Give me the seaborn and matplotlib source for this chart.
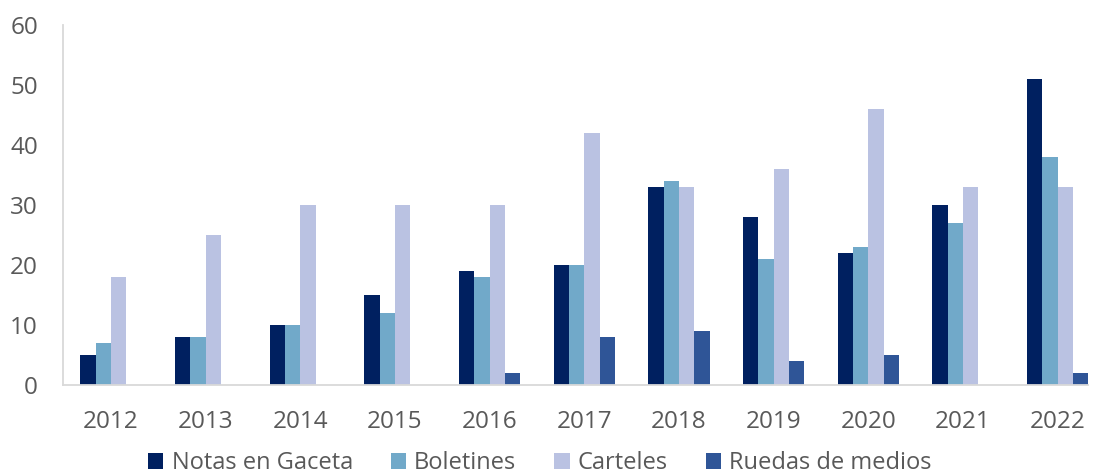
import numpy as np
import pandas as pd
import matplotlib
matplotlib.use("Agg")
import matplotlib.pyplot as plt
import seaborn as sns

# Data
years = ["2012", "2013", "2014", "2015", "2016", "2017", "2018", "2019", "2020", "2021", "2022"]
notas = [5, 8, 10, 15, 19, 20, 33, 28, 22, 30, 51]
boletines = [7, 8, 10, 12, 18, 20, 34, 21, 23, 27, 38]
carteles = [18, 25, 30, 30, 30, 42, 33, 36, 46, 33, 33]
ruedas = [0, 0, 0, 0, 2, 8, 9, 4, 5, 0, 2]
series_names = ["Notas en Gaceta", "Boletines", "Carteles", "Ruedas de medios"]
colors = ["#002060", "#71A9C9", "#BAC2E2", "#2F5597"]

df = pd.DataFrame({
    "year": years * 4,
    "serie": np.repeat(series_names, len(years)),
    "value": notas + boletines + carteles + ruedas,
})

sns.set_style("white")
plt.rcParams["font.family"] = ["Open Sans", "DejaVu Sans"]

fig = plt.figure(figsize=(10.93, 4.74), dpi=100)
ax = fig.add_axes([0.0576, 0.1878, 0.9378, 0.7592])

sns.barplot(data=df, x="year", y="value", hue="serie", order=years,
            hue_order=series_names, palette=colors, width=0.645,
            linewidth=0, saturation=1, ax=ax, legend=True)

ax.set_xlim(-0.507, 10.32)
ax.set_ylim(0, 60)
ax.set_yticks(range(0, 61, 10))
ax.set_xlabel("")
ax.set_ylabel("")
ax.tick_params(axis="both", length=0, labelsize=17.5, colors="#595959")
ax.tick_params(axis="x", pad=18)
ax.tick_params(axis="y", pad=18)
for s in ["top", "right"]:
    ax.spines[s].set_visible(False)
ax.spines["left"].set_color("#D9D9D9")
ax.spines["bottom"].set_color("#D9D9D9")
ax.spines["left"].set_linewidth(1.3)
ax.spines["bottom"].set_linewidth(1.3)

handles, labels = ax.get_legend_handles_labels()
ax.get_legend().remove()
leg = fig.legend(handles, labels, loc="lower center", bbox_to_anchor=(0.494, -0.047),
                 ncol=4, frameon=False, fontsize=17, handlelength=0.65,
                 handleheight=0.65, handletextpad=0.35, columnspacing=1.6)
for t in leg.get_texts():
    t.set_color("#595959")

fig.savefig("out.png", dpi=100)
